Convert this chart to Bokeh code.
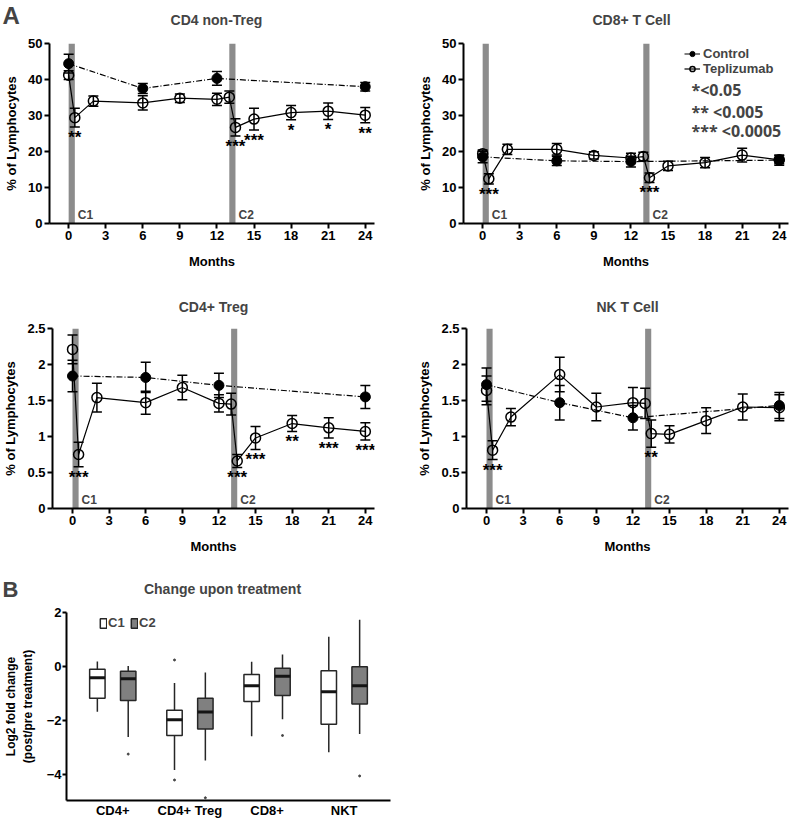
from bokeh.plotting import figure
from bokeh.layouts import column, row
from bokeh.models import (ColumnDataSource, Whisker, Label, Legend, LegendItem,
                          FixedTicker, TeeHead, Range1d, FactorRange)
from bokeh.transform import dodge
from bokeh.core.properties import value
from bokeh.embed import file_html
from bokeh.resources import INLINE

FONT = "Liberation Sans"

# ---------------- data ----------------
months_ctrl = [0, 6, 12, 24]
months_tep = [0, 0.5, 2, 6, 9, 12, 13, 13.5, 15, 18, 21, 24]
month_ticks = [0, 3, 6, 9, 12, 15, 18, 21, 24]
cycle_start = [0, 13]
cycle_end = [0.5, 13.5]
cycle_labels = ["C1", "C2"]

# CD4 non-Treg
cd4_ctrl_mean = [44.4, 37.5, 40.3, 38.0]
cd4_ctrl_sem = [2.6, 1.4, 1.9, 1.2]
cd4_tep_mean = [41.2, 29.4, 34.0, 33.5, 34.8, 34.5, 35.1, 26.7, 29.0, 30.8, 31.2, 30.1]
cd4_tep_sem = [1.2, 2.6, 1.4, 2.0, 1.2, 1.7, 1.7, 2.4, 3.0, 2.0, 2.3, 2.1]
cd4_stars = ["", "**", "", "", "", "", "", "***", "***", "*", "*", "**"]

# CD8+ T cell
cd8_ctrl_mean = [18.5, 17.4, 17.2, 17.6]
cd8_ctrl_sem = [1.6, 1.3, 1.5, 1.4]
cd8_tep_mean = [19.4, 12.4, 20.6, 20.6, 18.9, 18.2, 18.6, 12.7, 16.0, 16.9, 19.0, 17.7]
cd8_tep_sem = [1.0, 1.4, 1.4, 1.6, 1.0, 1.3, 1.2, 1.3, 1.3, 1.4, 1.9, 1.1]
cd8_stars = ["", "***", "", "", "", "", "", "***", "", "", "", ""]

# CD4+ Treg
treg_ctrl_mean = [1.84, 1.82, 1.71, 1.55]
treg_ctrl_sem = [0.22, 0.21, 0.17, 0.16]
treg_tep_mean = [2.21, 0.75, 1.54, 1.47, 1.68, 1.46, 1.45, 0.66, 0.98, 1.18, 1.12, 1.07]
treg_tep_sem = [0.20, 0.17, 0.20, 0.16, 0.17, 0.12, 0.15, 0.09, 0.16, 0.11, 0.14, 0.12]
treg_stars = ["", "***", "", "", "", "", "", "***", "***", "**", "***", "***"]

# NK T cell
nkt_ctrl_mean = [1.72, 1.47, 1.26, 1.43]
nkt_ctrl_sem = [0.23, 0.24, 0.17, 0.18]
nkt_tep_mean = [1.64, 0.81, 1.27, 1.86, 1.41, 1.47, 1.46, 1.04, 1.03, 1.22, 1.41, 1.40]
nkt_tep_sem = [0.20, 0.13, 0.12, 0.24, 0.19, 0.21, 0.21, 0.19, 0.12, 0.18, 0.18, 0.18]
nkt_stars = ["", "***", "", "", "", "", "", "**", "", "", "", ""]

# Panel B: log2 fold change boxplots
box_groups = ["CD4+", "CD4+ Treg", "CD8+", "NKT"]
c1_lower = [-1.68, -3.84, -2.59, -3.18]
c1_q1 = [-1.18, -2.56, -1.30, -2.14]
c1_median = [-0.42, -1.98, -0.72, -0.94]
c1_q3 = [-0.10, -1.62, -0.30, -0.16]
c1_upper = [0.18, -0.61, 0.17, 1.10]
c1_out_group = ["CD4+ Treg", "CD4+ Treg"]
c1_out_value = [0.24, -4.21]
c2_lower = [-2.62, -3.49, -1.96, -2.50]
c2_q1 = [-1.26, -2.32, -1.08, -1.39]
c2_median = [-0.46, -1.69, -0.36, -0.72]
c2_q3 = [-0.18, -1.18, -0.07, -0.01]
c2_upper = [0.02, -0.22, 0.44, 1.73]
c2_out_group = ["CD4+", "CD4+ Treg", "CD8+", "NKT"]
c2_out_value = [-3.25, -4.87, -2.56, -4.06]

BAR_GRAY = "#8c8c8c"
TOTAL_W = 791
LEFT_W = 399   # width of the left-hand panel in each row


def style_axes(p, tick_size="13px", label_size="13px"):
    for ax in [p.xaxis[0], p.yaxis[0]]:
        ax.axis_line_width = 2
        ax.axis_line_color = "black"
        ax.major_tick_line_width = 2
        ax.major_tick_line_color = "black"
        ax.major_tick_out = 5
        ax.major_tick_in = 0
        ax.minor_tick_line_color = None
        ax.major_label_text_font = FONT
        ax.major_label_text_font_style = "bold"
        ax.major_label_text_font_size = tick_size
        ax.major_label_text_color = "black"
        ax.axis_label_text_font = FONT
        ax.axis_label_text_font_style = "bold"
        ax.axis_label_text_font_size = label_size
        ax.axis_label_text_color = "black"
        ax.major_label_standoff = 2
    p.xaxis.axis_label_standoff = 11
    p.yaxis.axis_label_standoff = 6
    p.xgrid.visible = False
    p.ygrid.visible = False
    p.outline_line_color = None
    if p.title is not None:
        p.title.text_font = FONT
        p.title.text_font_style = "bold"
        p.title.text_font_size = "14px"
        p.title.align = "center"
        p.title.standoff = 28


def strip(height, texts):
    """A bare, axis-less figure holding panel letters / titles above a row."""
    s = figure(width=TOTAL_W, height=height,
               x_range=Range1d(0, TOTAL_W), y_range=Range1d(0, height),
               x_axis_location=None, y_axis_location=None,
               min_border=0, output_backend="svg", toolbar_location=None)
    s.grid.visible = False
    s.outline_line_color = None
    for x, y, txt, size, align, base in texts:
        s.add_layout(Label(x=x, y=y, text=txt, text_font=FONT,
                           text_font_style="bold", text_font_size=size,
                           text_align=align, text_baseline=base))
    return s


def panel(title, ymax, yticks, ctrl_mean, ctrl_sem, tep_mean, tep_sem, stars,
          left, top, bottom, frame_w, x_start, total_w):
    kw = dict(title=title) if title else {}
    p = figure(frame_width=frame_w, frame_height=180,
               x_range=Range1d(x_start, 24.75), y_range=Range1d(0, ymax),
               min_border_left=left, min_border_right=max(0, total_w - left - frame_w),
               min_border_top=top, min_border_bottom=bottom,
               output_backend="svg", toolbar_location=None, **kw)
    style_axes(p)
    p.xaxis.ticker = FixedTicker(ticks=month_ticks)
    p.yaxis.ticker = FixedTicker(ticks=yticks)
    p.xaxis.axis_label = "Months"
    p.yaxis.axis_label = "% of Lymphocytes"

    # treatment cycle bars
    p.quad(left=cycle_start, right=cycle_end, bottom=0, top=ymax,
           fill_color=BAR_GRAY, line_color=None)
    for xs, lab in zip(cycle_end, cycle_labels):
        p.add_layout(Label(x=xs, y=0, text=lab, x_offset=3, y_offset=2,
                           text_font=FONT, text_font_style="bold",
                           text_font_size="12px", text_baseline="bottom"))

    csrc = ColumnDataSource(dict(
        x=months_ctrl, y=ctrl_mean,
        upper=[m + s for m, s in zip(ctrl_mean, ctrl_sem)],
        lower=[m - s for m, s in zip(ctrl_mean, ctrl_sem)]))
    tsrc = ColumnDataSource(dict(
        x=months_tep, y=tep_mean,
        upper=[m + s for m, s in zip(tep_mean, tep_sem)],
        lower=[m - s for m, s in zip(tep_mean, tep_sem)],
        stars=stars))

    cl = p.line("x", "y", source=csrc, line_color="black", line_width=1.2,
                line_dash="6 2 1 2")
    tl = p.line("x", "y", source=tsrc, line_color="black", line_width=1.2)
    for src in (csrc, tsrc):
        w = Whisker(source=src, base="x", upper="upper", lower="lower",
                    line_color="black", line_width=1.5, level="annotation",
                    upper_head=TeeHead(size=10, line_width=1.5, line_color="black"),
                    lower_head=TeeHead(size=10, line_width=1.5, line_color="black"))
        p.add_layout(w)
    cs = p.scatter("x", "y", source=csrc, size=10, fill_color="black",
                   line_color="black")
    ts = p.scatter("x", "y", source=tsrc, size=10, fill_alpha=0,
                   line_color="black", line_width=1.5)
    p.text(x="x", y="lower", text="stars", source=tsrc, text_align="center",
           text_baseline="top", text_font=value(FONT), text_font_style="bold",
           text_font_size="17px", y_offset=1, text_color="black")
    return p, (cl, cs, tl, ts)


p1, _ = panel(None, 50, [0, 10, 20, 30, 40, 50],
              cd4_ctrl_mean, cd4_ctrl_sem, cd4_tep_mean, cd4_tep_sem, cd4_stars,
              left=49, top=8, bottom=56, frame_w=325, x_start=-1.55, total_w=LEFT_W)
p2, rs = panel(None, 50, [0, 10, 20, 30, 40, 50],
               cd8_ctrl_mean, cd8_ctrl_sem, cd8_tep_mean, cd8_tep_sem, cd8_stars,
               left=64, top=8, bottom=56, frame_w=325, x_start=-1.55,
               total_w=TOTAL_W - LEFT_W)
p3, _ = panel("CD4+ Treg", 2.5, [0, 0.5, 1.0, 1.5, 2.0, 2.5],
              treg_ctrl_mean, treg_ctrl_sem, treg_tep_mean, treg_tep_sem, treg_stars,
              left=52, top=49, bottom=51, frame_w=322, x_start=-1.64, total_w=LEFT_W)
p4, _ = panel("NK T Cell", 2.5, [0, 0.5, 1.0, 1.5, 2.0, 2.5],
              nkt_ctrl_mean, nkt_ctrl_sem, nkt_tep_mean, nkt_tep_sem, nkt_stars,
              left=67, top=49, bottom=51, frame_w=322, x_start=-1.64,
              total_w=TOTAL_W - LEFT_W)

# legend + significance key in CD8 panel
cl, cs, tl, ts = rs
leg = Legend(items=[LegendItem(label="Control", renderers=[cl, cs]),
                    LegendItem(label="Teplizumab", renderers=[tl, ts])],
             location=(221, 147), background_fill_alpha=0, border_line_color=None,
             padding=0, margin=0, spacing=0, label_height=13, glyph_height=13,
             glyph_width=16, label_standoff=3, label_text_font=FONT,
             label_text_font_style="bold", label_text_font_size="13px")
p2.add_layout(leg)
for yv, txt in [(37.2, "*<0.05"), (31.1, "** <0.005"), (25.6, "*** <0.0005")]:
    p2.add_layout(Label(x=16.9, y=yv, text=txt, text_baseline="middle",
                        text_font="Open Sans", text_font_style="bold",
                        text_font_size="16px"))

top_strip = strip(35, [(2, 34, "A", "24px", "left", "top"),
                       (216, 16, "CD4 non-Treg", "14px", "center", "middle"),
                       (631, 16, "CD8+ T Cell", "14px", "center", "middle")])

# ---------------- panel B ----------------
p5 = figure(frame_width=324, frame_height=188,
            x_range=FactorRange(*box_groups, range_padding=0.1,
                                range_padding_units="absolute"),
            y_range=Range1d(-4.97, 2.0),
            min_border_left=60, min_border_right=15, min_border_top=12,
            min_border_bottom=18, output_backend="svg", toolbar_location=None)
style_axes(p5)
p5.yaxis.ticker = FixedTicker(ticks=[-4, -2, 0, 2])
p5.yaxis.axis_label = "Log2 fold change\n(post/pre treatment)"
p5.yaxis.axis_label_text_font_size = "12px"
p5.yaxis.axis_label_standoff = 9
p5.yaxis.major_label_standoff = 1
p5.yaxis.major_tick_out = 4
p5.xaxis.major_tick_line_color = None
p5.xaxis.major_tick_out = 0
p5.xaxis.major_label_standoff = 2
p5.xaxis.major_label_text_font_size = "13px"

EDGE = "#262626"
boxes = []
for off, fill, lo, q1, med, q3, up, og, ov in [
        (-0.2, "white", c1_lower, c1_q1, c1_median, c1_q3, c1_upper, c1_out_group, c1_out_value),
        (0.2, "#808080", c2_lower, c2_q1, c2_median, c2_q3, c2_upper, c2_out_group, c2_out_value)]:
    src = ColumnDataSource(dict(group=box_groups, lower=lo, q1=q1, median=med,
                                q3=q3, upper=up))
    xd = dodge("group", off, range=p5.x_range)
    p5.segment(x0=xd, y0="q3", x1=xd, y1="upper", source=src,
               line_color=EDGE, line_width=1.5)
    p5.segment(x0=xd, y0="q1", x1=xd, y1="lower", source=src,
               line_color=EDGE, line_width=1.5)
    b = p5.vbar(x=xd, width=0.2, bottom="q1", top="q3", source=src,
                fill_color=fill, line_color=EDGE, line_width=1.5)
    boxes.append(b)
    p5.rect(x=xd, y="median", width=0.2, height=3, height_units="screen",
            source=src, fill_color="#141414", line_color=None)
    osrc = ColumnDataSource(dict(group=og, value=ov))
    p5.scatter(x=dodge("group", off, range=p5.x_range), y="value", source=osrc,
               size=2, color="#444444")

leg5 = Legend(items=[LegendItem(label="C1", renderers=[boxes[0]]),
                     LegendItem(label="C2", renderers=[boxes[1]])],
              orientation="horizontal", location=(33, 170),
              background_fill_alpha=0, border_line_color=None, padding=0,
              margin=0, spacing=2, label_height=14, glyph_height=12,
              glyph_width=8, label_standoff=1, label_text_font=FONT,
              label_text_font_style="bold", label_text_font_size="13px")
p5.add_layout(leg5)

b_strip = strip(41, [(2, 24, "B", "22px", "left", "top"),
                     (222, 12, "Change upon treatment", "14px", "center", "middle")])

layout = column(row(top_strip), row(p1, p2), row(p3, p4), row(b_strip), row(p5))
open("out.html", "w").write(file_html(layout, INLINE))
